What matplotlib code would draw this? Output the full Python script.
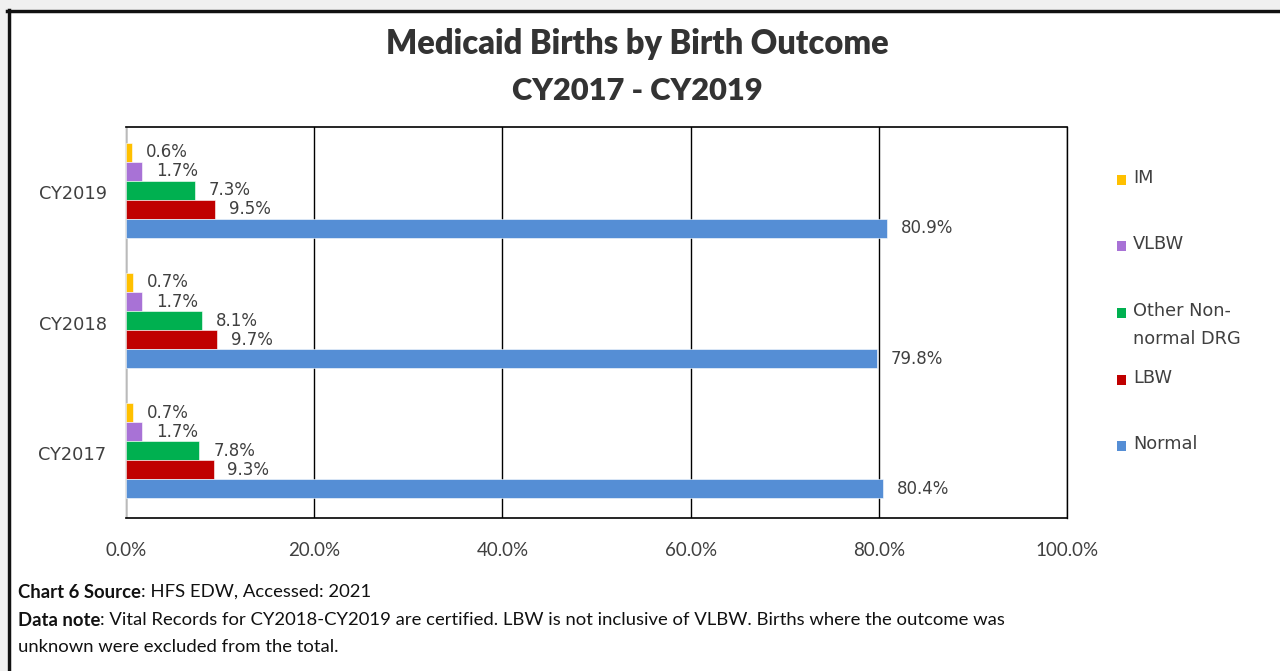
import matplotlib
matplotlib.use("Agg")
import numpy as np
import matplotlib.pyplot as plt
from matplotlib.patches import Rectangle

# ─── Data ─────────────────────────────────────────────────────────────────────
years = ["CY2017", "CY2018", "CY2019"]
series = ["IM", "VLBW", "Other Non-normal DRG", "LBW", "Normal"]
legend_labels = ["IM", "VLBW", "Other Non-\nnormal DRG", "LBW", "Normal"]
im_pct = [0.7, 0.7, 0.6]
vlbw_pct = [1.7, 1.7, 1.7]
other_pct = [7.8, 8.1, 7.3]
lbw_pct = [9.3, 9.7, 9.5]
normal_pct = [80.4, 79.8, 80.9]
values = [im_pct, vlbw_pct, other_pct, lbw_pct, normal_pct]
x_ticks = [0, 20, 40, 60, 80, 100]

COLORS = ["#FFC000", "#A872D6", "#00B050", "#C00000", "#558ED5"]
TXT = "#404040"

W, H = 1280, 671
fig = plt.figure(figsize=(W / 100, H / 100), dpi=100, facecolor="white")


def fx(px):
    return px / W


def fy(py):
    return 1 - py / H


# ─── Outer frame (gray margin + dark border) ─────────────────────────────────
fig.patches.append(Rectangle((0, fy(9)), 1, 1 - fy(9), transform=fig.transFigure,
                             facecolor="#f0f0f0", edgecolor="none", zorder=0))
fig.patches.append(Rectangle((0, 0), fx(7), 1, transform=fig.transFigure,
                             facecolor="#f0f0f0", edgecolor="none", zorder=0))
fig.add_artist(plt.Line2D([fx(7), 1], [fy(11), fy(11)], transform=fig.transFigure,
                          color="#111111", lw=2.5))
fig.add_artist(plt.Line2D([fx(9), fx(9)], [0, fy(10)], transform=fig.transFigure,
                          color="#111111", lw=2.5))

# ─── Axes ────────────────────────────────────────────────────────────────────
ax = fig.add_axes([fx(126), fy(518), fx(1067) - fx(126), fy(127) - fy(518)])
ax.set_facecolor("white")

h = 0.146
y = np.arange(len(years))
offsets = [2 * h, h, 0, -h, -2 * h]
for vals, off, col in zip(values, offsets, COLORS):
    bars = ax.barh(y + off + 0.015, vals, height=h, color=col, edgecolor="white",
                   linewidth=0.4, zorder=3)
    for b, v in zip(bars, vals):
        ax.annotate(f"{v:.1f}%", (b.get_width(), b.get_y() + b.get_height() / 2),
                    xytext=(10, 0), textcoords="offset points", va="center", ha="left",
                    fontsize=12, color=TXT, family="DejaVu Sans", zorder=4)

ax.set_xlim(0, 100)
ax.set_ylim(-0.5, 2.5)
ax.set_xticks(x_ticks)
ax.set_xticklabels([f"{t:.1f}%" for t in x_ticks], family="Lato", fontsize=13.5, color=TXT)
ax.set_yticks(y)
ax.set_yticklabels(years, family="DejaVu Sans", fontsize=12.8, color=TXT)
ax.tick_params(axis="both", length=0)
ax.tick_params(axis="x", pad=17)
ax.tick_params(axis="y", pad=14)
ax.grid(True, axis="x", color="black", linewidth=1.0, zorder=0)
ax.set_axisbelow(True)
for s in ["top", "bottom", "right"]:
    ax.spines[s].set_color("black")
    ax.spines[s].set_linewidth(1.2)
ax.spines["right"].set_linewidth(1.0)
ax.spines["left"].set_color("#e0e0e0")
ax.spines["left"].set_linewidth(1.2)

# ─── Title ───────────────────────────────────────────────────────────────────
fig.text(fx(637), fy(44), "Medicaid Births by Birth Outcome", ha="center", va="center",
         family="Lato", fontweight="heavy", fontsize=23.5, color="#333333")
fig.text(fx(637), fy(91), "CY2017 - CY2019", ha="center", va="center",
         family="Lato", fontweight="heavy", fontsize=22.2, color="#333333")

# ─── Legend (manual) ─────────────────────────────────────────────────────────
leg_y = [180, 246, 313, 380, 446]
for lab, col, py in zip(legend_labels, COLORS, leg_y):
    fig.patches.append(Rectangle((fx(1117), fy(py + 5)), fx(9), fy(py - 5) - fy(py + 5),
                                 transform=fig.transFigure, facecolor=col, edgecolor="none"))
    fig.text(fx(1133), fy(py - 11), lab, ha="left", va="top", family="DejaVu Sans",
             fontsize=12.8, color=TXT, linespacing=1.75)

# ─── Footnotes ───────────────────────────────────────────────────────────────
renderer = fig.canvas.get_renderer()
FN = 13.3


def mixed(px, py, bold, normal):
    t = fig.text(fx(px), fy(py), bold, ha="left", va="center", family="Lato",
                 fontweight="bold", fontsize=FN, color="#111111")
    bb = t.get_window_extent(renderer=renderer)
    fig.text(bb.x1 / W, fy(py), normal, ha="left", va="center", family="Lato",
             fontsize=FN, color="#111111")


mixed(18, 592, "Chart 6 Source", ": HFS EDW, Accessed: 2021")
mixed(18, 620, "Data note", ": Vital Records for CY2018-CY2019 are certified. LBW is not inclusive of VLBW. "
      "Births where the outcome was")
fig.text(fx(18), fy(647), "unknown were excluded from the total.", ha="left", va="center",
         family="Lato", fontsize=FN, color="#111111")

fig.savefig("out.png", dpi=100, facecolor=fig.get_facecolor())
